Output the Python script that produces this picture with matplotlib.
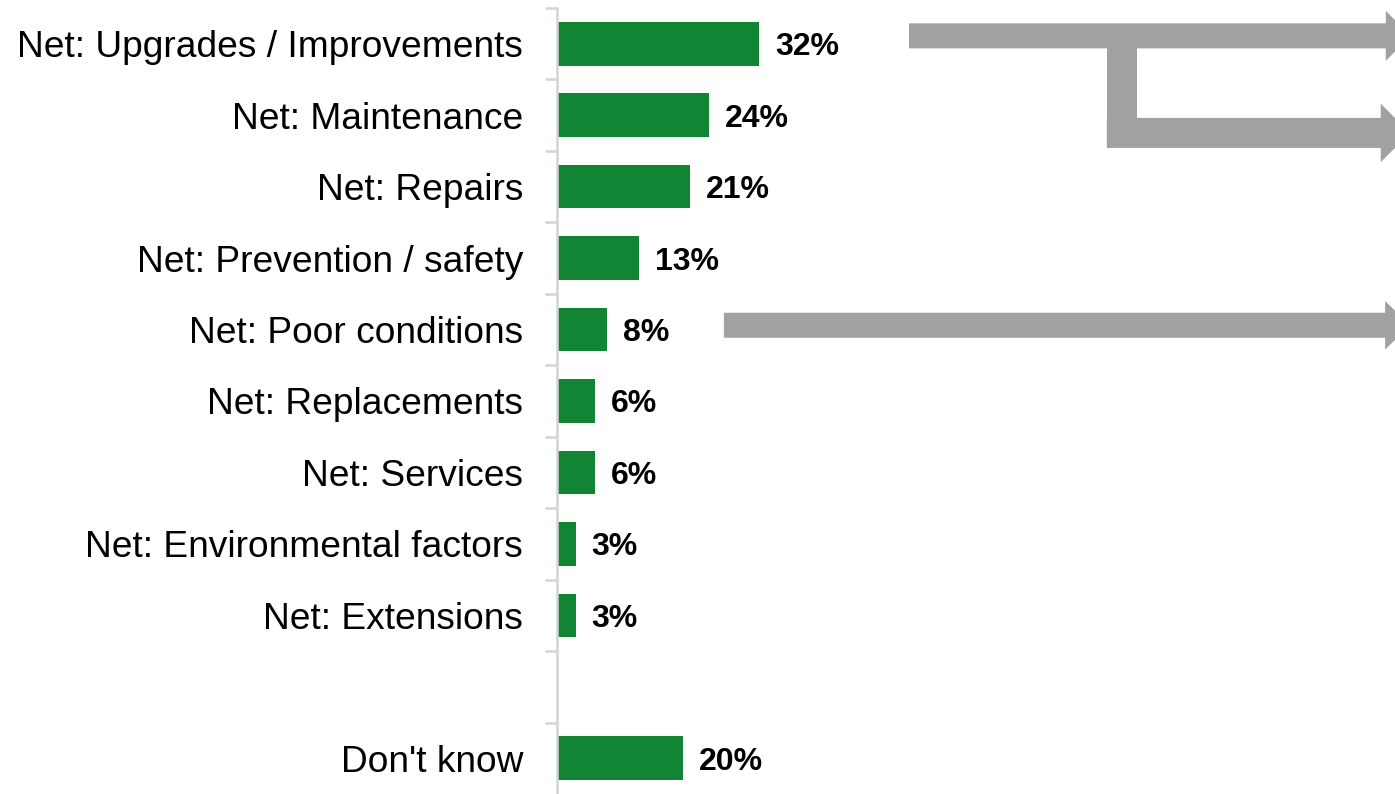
import matplotlib
matplotlib.use("Agg")
import matplotlib.pyplot as plt
import numpy as np

plt.rcParams["font.family"] = ["Liberation Sans", "DejaVu Sans"]

# Reasons (nets), top to bottom; the empty slot separates "Don't know"
categories = [
    "Net: Upgrades / Improvements",
    "Net: Maintenance",
    "Net: Repairs",
    "Net: Prevention / safety",
    "Net: Poor conditions",
    "Net: Replacements",
    "Net: Services",
    "Net: Environmental factors",
    "Net: Extensions",
    "",
    "Don't know",
]
values = [32, 24, 21, 13, 8, 6, 6, 3, 3, None, 20]

BAR_GREEN = "#128534"
ARROW_GREY = "#A1A1A1"
AXIS_GREY = "#D4D4D4"


def arrow_poly(x0, x1, yc, half_shaft, half_head, head_len):
    """Straight right-pointing block arrow; x1 is the base of the head."""
    return [
        (x0, yc - half_shaft), (x1, yc - half_shaft), (x1, yc - half_head),
        (x1 + head_len, yc), (x1, yc + half_head), (x1, yc + half_shaft),
        (x0, yc + half_shaft),
    ]


fig = plt.figure(figsize=(13.95, 7.94), dpi=100)
ax = fig.add_axes([556.5 / 1395, 0.0, 1 - 556.5 / 1395, 1 - 8 / 794])

y = np.arange(len(categories))
for yi, v in zip(y, values):
    if v is None:
        continue
    ax.barh(yi, v, height=0.61, color=BAR_GREEN, linewidth=0)
    ax.text(v + 2.5, yi, f"{v}%", va="center_baseline", ha="left",
            fontsize=23, fontweight="bold", color="black")

ax.set_xlim(0, (1395 - 556.5) / 6.34)
ax.set_ylim(len(categories) - 0.5, -0.5)

ax.set_yticks(y)
ax.set_yticklabels(categories, fontsize=26.7)
ax.tick_params(axis="y", which="major", length=0, pad=24)
ax.set_yticks(np.arange(-0.5, len(categories) - 1), minor=True)
ax.tick_params(axis="y", which="minor", length=8.5, width=1.8, color=AXIS_GREY)
ax.set_xticks([])

for side in ("top", "right", "bottom"):
    ax.spines[side].set_visible(False)
ax.spines["left"].set_color(AXIS_GREY)
ax.spines["left"].set_linewidth(1.8)

# Grey flow arrows pointing off to the right
top = arrow_poly(55.6, 130.8, -0.11, 0.175, 0.35, 3.9)
ax.fill(*zip(*top), color=ARROW_GREY, linewidth=0)
branch_x0, branch_x1 = 86.8, 91.6
lower = arrow_poly(branch_x0, 130.0, 1.248, 0.21, 0.41, 4.6)
ax.fill(*zip(*lower), color=ARROW_GREY, linewidth=0)
ax.fill([branch_x0, branch_x1, branch_x1, branch_x0],
        [-0.11, -0.11, 1.3, 1.3], color=ARROW_GREY, linewidth=0)
mid = arrow_poly(26.4, 130.7, 3.94, 0.175, 0.34, 3.9)
ax.fill(*zip(*mid), color=ARROW_GREY, linewidth=0)

fig.savefig("out.png", dpi=100)
